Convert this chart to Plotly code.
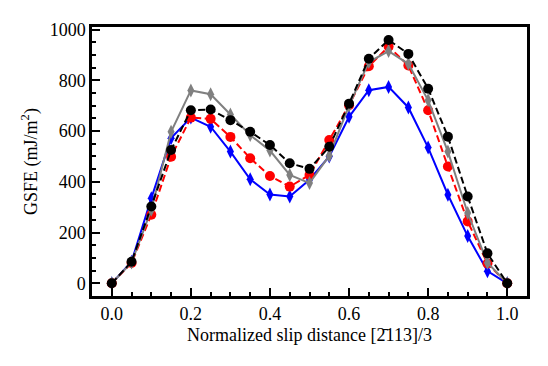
import plotly.graph_objects as go

# Normalized slip distance (0 to 1 in steps of 0.05)
slip = [0.0, 0.05, 0.1, 0.15, 0.2, 0.25, 0.3, 0.35, 0.4, 0.45, 0.5,
        0.55, 0.6, 0.65, 0.7, 0.75, 0.8, 0.85, 0.9, 0.95, 1.0]

# GSFE values (mJ/m^2)
gsfe_blue = [0, 85, 335, 572, 653, 617, 519, 410, 350, 342, 408,
             500, 656, 761, 774, 693, 535, 349, 186, 48, 0]
gsfe_red = [0, 80, 270, 499, 653, 648, 577, 493, 423, 381, 427,
            565, 702, 855, 933, 858, 682, 460, 244, 78, 0]
gsfe_gray = [0, 82, 290, 597, 760, 745, 665, 584, 523, 427, 395,
             503, 700, 872, 915, 865, 721, 519, 277, 81, 0]
gsfe_black = [0, 85, 303, 525, 682, 685, 643, 597, 545, 473, 451,
              538, 708, 885, 959, 904, 767, 578, 342, 118, 0]

FONT = "Liberation Serif"

series = [
    (gsfe_blue, '#0000ff', 'solid', 'diamond-tall'),
    (gsfe_red, '#ff0000', 'dash', 'circle'),
    (gsfe_gray, '#808080', 'solid', 'diamond-tall'),
    (gsfe_black, '#000000', 'dash', 'circle'),
]

fig = go.Figure()
for vals, color, dash, symbol in series:
    fig.add_trace(go.Scatter(
        x=slip,
        y=vals,
        mode='lines+markers',
        line=dict(color=color, width=2, dash='7px,3.5px' if dash == 'dash' else 'solid'),
        marker=dict(color=color, size=10 if symbol == 'circle' else 10, symbol=symbol),
        showlegend=False,
    ))

axis_common = dict(
    showline=True,
    linecolor='black',
    linewidth=2.5,
    mirror=True,
    showgrid=False,
    zeroline=False,
    automargin=False,
    ticks='inside',
    ticklen=8,
    tickwidth=2,
    tickcolor='black',
    tickfont=dict(family=FONT, size=18, color='black'),
)

fig.update_layout(
    width=548,
    height=366,
    margin=dict(l=92, r=21, t=27, b=70),
    paper_bgcolor='white',
    plot_bgcolor='white',
    font=dict(family=FONT, color='black'),
    xaxis=dict(
        **axis_common,
        range=[-0.05, 1.05],
        tickvals=[0.0, 0.2, 0.4, 0.6, 0.8, 1.0],
        ticktext=['0.0', '0.2', '0.4', '0.6', '0.8', '1.0'],
        minor=dict(ticks='inside', dtick=0.05, tick0=0, ticklen=4, tickwidth=1.5, tickcolor='black'),
        title=dict(text='Normalized slip distance [2\u0304113]/3',
                   font=dict(family=FONT, size=18, color='black'), standoff=6),
    ),
    yaxis=dict(
        **axis_common,
        range=[-50, 1010],
        tickvals=[0, 200, 400, 600, 800, 1000],
        minor=dict(ticks='inside', dtick=50, tick0=0, ticklen=4, tickwidth=1.5, tickcolor='black'),
        title=dict(text='GSFE (mJ/m<sup>2</sup>)',
                   font=dict(family=FONT, size=18, color='black'), standoff=8),
    ),
)

# drop the page's default body margin so the figure sits at the window origin
fig.write_html(
    "out.html",
    config={'displayModeBar': False},
    post_script="document.body.style.margin='0';document.body.style.overflow='hidden';",
)
